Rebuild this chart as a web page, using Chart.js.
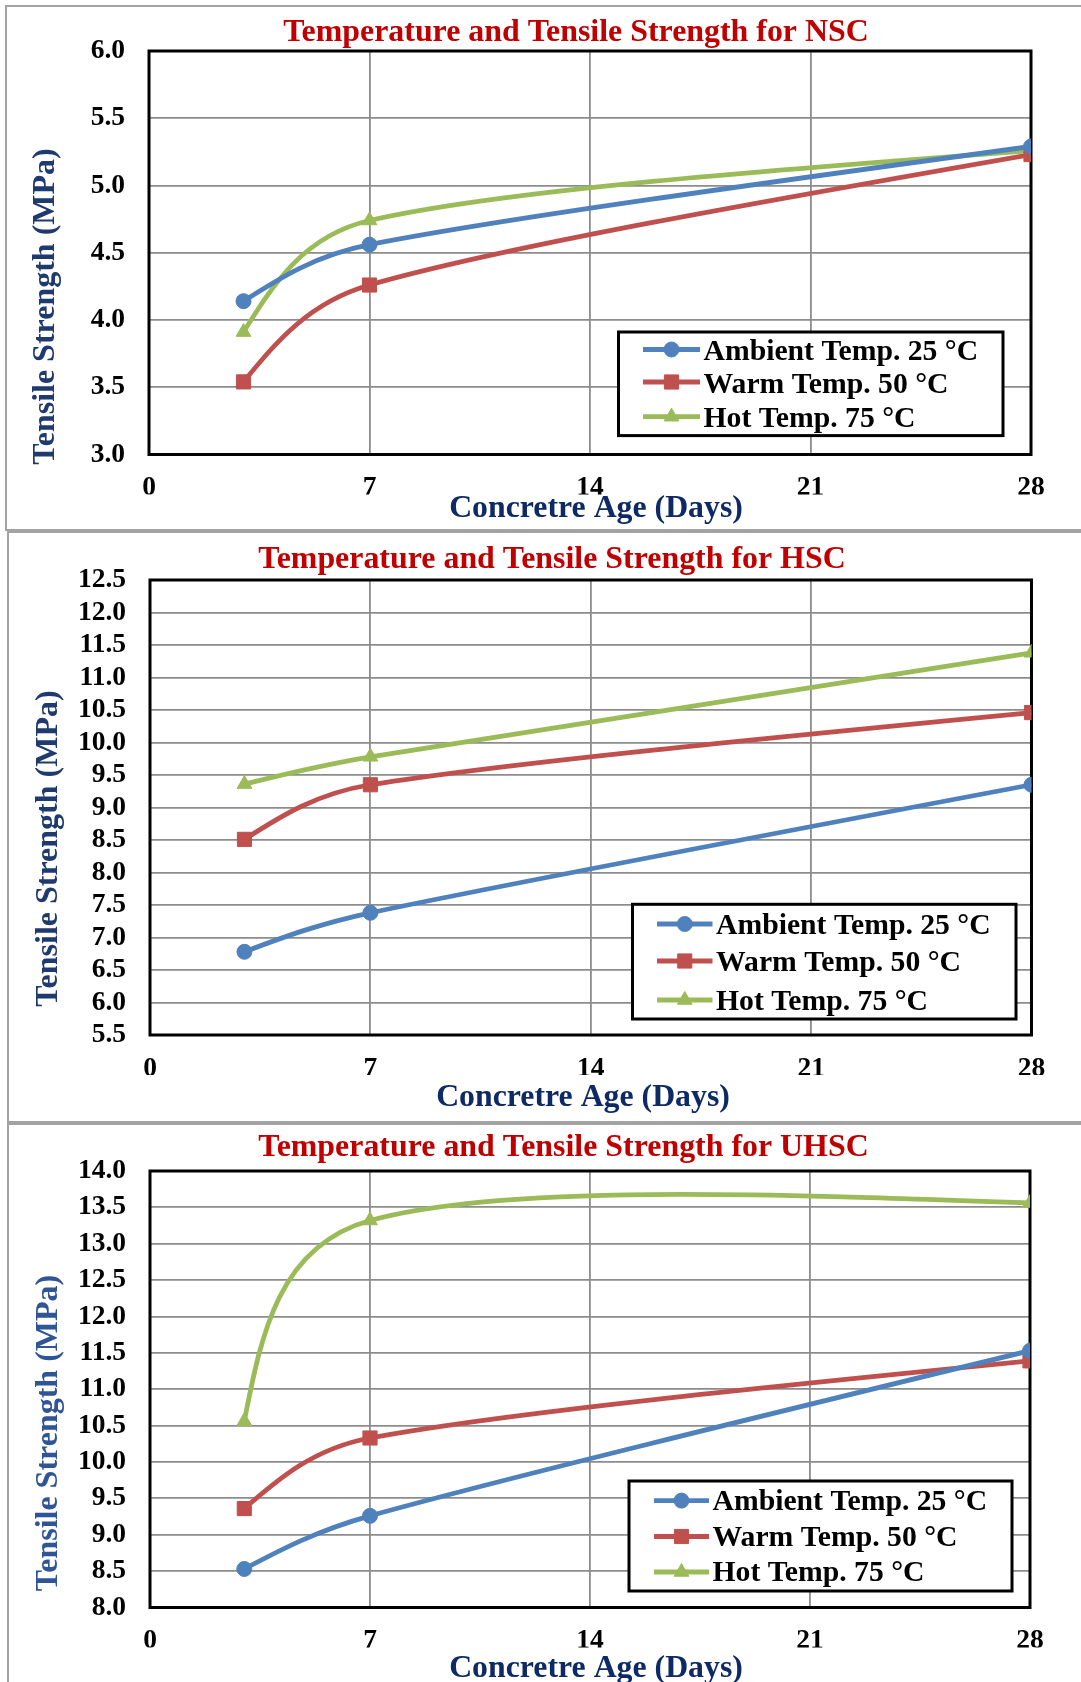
<!DOCTYPE html>
<html>
<head>
<meta charset="utf-8">
<script src="https://cdn.jsdelivr.net/npm/chart.js@4.4.0/dist/chart.umd.min.js"></script>
<style>
  body { margin: 0; background: #fff; width: 1081px; height: 1682px; overflow: hidden; position: relative; }
  .frame { position: absolute; border: 2px solid #a3a3a3; border-right: none; box-sizing: border-box; }
  canvas { position: absolute; left: 0; }
</style>
</head>
<body>
<div class="frame" style="left:5px;top:5px;width:1100px;height:526px"></div>
<div class="frame" style="left:7px;top:531px;width:1100px;height:592px"></div>
<div class="frame" style="left:7px;top:1123px;width:1100px;height:600px"></div>
<canvas id="nsc" width="1081" height="531" style="top:0"></canvas>
<canvas id="hsc" width="1081" height="590" style="top:531px"></canvas>
<canvas id="uhsc" width="1081" height="561" style="top:1121px"></canvas>
<script>
const days = [3, 7, 28];
const dayTicks = [0, 7, 14, 21, 28];
const seriesNames = ['Ambient Temp. 25 °C', 'Warm Temp. 50 °C', 'Hot Temp. 75 °C'];

const nscAmbient = [4.14, 4.56, 5.29];
const nscWarm = [3.54, 4.26, 5.23];
const nscHot = [3.91, 4.74, 5.26];
const nscTicks = [3.0, 3.5, 4.0, 4.5, 5.0, 5.5, 6.0];

const hscAmbient = [6.78, 7.38, 9.35];
const hscWarm = [8.51, 9.35, 10.46];
const hscHot = [9.36, 9.78, 11.38];
const hscTicks = [5.5, 6.0, 6.5, 7.0, 7.5, 8.0, 8.5, 9.0, 9.5, 10.0, 10.5, 11.0, 11.5, 12.0, 12.5];

const uhscAmbient = [8.53, 9.26, 11.53];
const uhscWarm = [9.36, 10.33, 11.39];
const uhscHot = [10.56, 13.32, 13.56];
const uhscTicks = [8.0, 8.5, 9.0, 9.5, 10.0, 10.5, 11.0, 11.5, 12.0, 12.5, 13.0, 13.5, 14.0];

const SERIF = "'Liberation Serif', 'Times New Roman', serif";
const seriesStyle = [
  { color: '#4F81BD', point: 'circle', r: 7.5 },
  { color: '#C0504D', point: 'rect', r: 10 },
  { color: '#9BBB59', point: 'triangle', r: 8.5 }
];

Chart.defaults.animation = false;

// thick black box round the plot area
const plotFrame = {
  id: 'plotFrame',
  beforeDatasetsDraw(chart) {
    const { ctx, chartArea: a } = chart;
    ctx.save();
    ctx.strokeStyle = '#000';
    ctx.lineWidth = 3;
    ctx.strokeRect(a.left, a.top, a.right - a.left, a.bottom - a.top);
    ctx.restore();
  }
};

// excel style smoothing: tangent from the two neighbours, 1/6 of their span,
// capped at 0.4 of the segment; end tangents aim half way at the next control point
const excelSmooth = {
  id: 'excelSmooth',
  beforeDatasetDraw(chart, args) {
    const line = args.meta.dataset;
    const pts = args.meta.data;
    const n = pts.length;
    line.updateControlPoints(chart.chartArea, 'x');
    if (n < 3) return;
    const dist = (a, b) => Math.hypot(b.x - a.x, b.y - a.y);
    for (let i = 1; i < n - 1; i++) {
      const p = pts[i], prev = pts[i - 1], next = pts[i + 1];
      const tx = next.x - prev.x, ty = next.y - prev.y;
      const tl = Math.hypot(tx, ty) || 1;
      const lIn = Math.min(tl / 6, 0.4 * dist(prev, p));
      const lOut = Math.min(tl / 6, 0.4 * dist(p, next));
      p.cp1x = p.x - tx / tl * lIn; p.cp1y = p.y - ty / tl * lIn;
      p.cp2x = p.x + tx / tl * lOut; p.cp2y = p.y + ty / tl * lOut;
    }
    const first = pts[0], second = pts[1];
    first.cp2x = first.x + 0.5 * (second.cp1x - first.x);
    first.cp2y = first.y + 0.5 * (second.cp1y - first.y);
    const last = pts[n - 1], before = pts[n - 2];
    last.cp1x = last.x + 0.5 * (before.cp2x - last.x);
    last.cp1y = last.y + 0.5 * (before.cp2y - last.y);
  }
};

const panelText = {
  id: 'panelText',
  afterDraw(chart, args, o) {
    const ctx = chart.ctx;
    ctx.save();
    ctx.textBaseline = 'alphabetic';
    ctx.textAlign = 'center';
    ctx.font = 'bold 31.9px ' + SERIF;
    ctx.fillStyle = '#C00000';
    ctx.fillText(o.title, o.titleX, o.titleY);
    ctx.font = 'bold 31.8px ' + SERIF;
    ctx.fillStyle = '#0E2A66';
    ctx.fillText('Concretre Age (Days)', o.xTitleX, o.xTitleY);
    ctx.translate(o.yTitleX, o.yTitleY);
    ctx.rotate(-Math.PI / 2);
    ctx.font = 'bold 32px ' + SERIF;
    ctx.fillStyle = o.yColor;
    ctx.fillText('Tensile Strength (MPa)', 0, 0);
    ctx.restore();
  }
};

const boxLegend = {
  id: 'boxLegend',
  afterDatasetsDraw(chart, args, o) {
    const ctx = chart.ctx;
    ctx.save();
    ctx.fillStyle = '#fff';
    ctx.fillRect(o.x, o.y, o.w, o.h);
    ctx.strokeStyle = '#000';
    ctx.lineWidth = 3;
    ctx.strokeRect(o.x, o.y, o.w, o.h);
    chart.data.datasets.forEach((ds, i) => {
      const y = o.rows[i];
      ctx.strokeStyle = ds.borderColor;
      ctx.lineWidth = 4.8;
      ctx.beginPath();
      ctx.moveTo(o.lineX1, y);
      ctx.lineTo(o.lineX2, y);
      ctx.stroke();
      ctx.fillStyle = ds.pointBackgroundColor;
      ctx.strokeStyle = ds.pointBorderColor;
      ctx.lineWidth = 1;
      Chart.helpers.drawPoint(ctx, { pointStyle: ds.pointStyle, radius: ds.pointRadius, rotation: 0, borderWidth: 1 },
        (o.lineX1 + o.lineX2) / 2, y);
      ctx.fillStyle = '#000';
      ctx.font = 'bold 29.7px ' + SERIF;
      ctx.textAlign = 'left';
      ctx.textBaseline = 'alphabetic';
      ctx.fillText(ds.label, o.textX, y + o.baseOff);
    });
    ctx.restore();
  }
};

function makePanel(id, series, yTicks, area, height, text, legend) {
  const xAxisH = 40;
  const tickFont = { family: SERIF, size: 27.5, weight: 'bold' };
  new Chart(document.getElementById(id), {
    type: 'line',
    data: {
      datasets: series.map((vals, i) => ({
        label: seriesNames[i],
        data: days.map((d, j) => ({ x: d, y: vals[j] })),
        borderColor: seriesStyle[i].color,
        borderWidth: 4.8,
        tension: 0.4,
        pointStyle: seriesStyle[i].point,
        pointRadius: seriesStyle[i].r,
        pointBackgroundColor: seriesStyle[i].color,
        pointBorderColor: seriesStyle[i].color,
        pointBorderWidth: 1,
        fill: false
      }))
    },
    options: {
      responsive: false,
      events: [],
      layout: {
        padding: { left: 0, top: area.top, right: 1081 - area.right, bottom: height - area.bottom - xAxisH }
      },
      scales: {
        x: {
          type: 'linear',
          min: dayTicks[0],
          max: dayTicks[dayTicks.length - 1],
          afterBuildTicks: s => { s.ticks = dayTicks.map(v => ({ value: v })); },
          afterFit: s => { s.height = xAxisH; },
          grid: { color: '#8c8c8c', lineWidth: 1.8, drawTicks: false },
          border: { display: false },
          ticks: { padding: 17, font: tickFont, color: '#000', maxRotation: 0, autoSkip: false }
        },
        y: {
          min: yTicks[0],
          max: yTicks[yTicks.length - 1],
          afterBuildTicks: s => { s.ticks = yTicks.map(v => ({ value: v })); },
          afterFit: s => { s.width = area.left; },
          grid: { color: '#8c8c8c', lineWidth: 1.8, drawTicks: false },
          border: { display: false },
          ticks: { padding: 24, font: tickFont, color: '#000', autoSkip: false, callback: v => v.toFixed(1) }
        }
      },
      plugins: {
        legend: { display: false },
        tooltip: { enabled: false },
        panelText: text,
        boxLegend: legend
      }
    },
    plugins: [plotFrame, excelSmooth, panelText, boxLegend]
  });
}

makePanel('nsc', [nscAmbient, nscWarm, nscHot], nscTicks,
  { left: 149, top: 51, right: 1031, bottom: 454.5 }, 531,
  { title: 'Temperature and Tensile Strength for NSC', titleX: 576, titleY: 40.6,
    xTitleX: 596, xTitleY: 516.5, yTitleX: 54, yTitleY: 306.5, yColor: '#1F3A6E' },
  { x: 618.5, y: 332, w: 384.5, h: 103.6, lineX1: 643, lineX2: 700, textX: 703.5,
    rows: [349.5, 382, 416.7], baseOff: 10.5 });

makePanel('hsc', [hscAmbient, hscWarm, hscHot], hscTicks,
  { left: 150, top: 49, right: 1031.5, bottom: 504 }, 590,
  { title: 'Temperature and Tensile Strength for HSC', titleX: 552, titleY: 37.3,
    xTitleX: 583, xTitleY: 575, yTitleX: 56.8, yTitleY: 317.6, yColor: '#1F3A6E' },
  { x: 632.5, y: 373.3, w: 383.5, h: 114.7, lineX1: 657, lineX2: 712.5, textX: 716,
    rows: [393, 430, 469], baseOff: 9.7 });

makePanel('uhsc', [uhscAmbient, uhscWarm, uhscHot], uhscTicks,
  { left: 150, top: 50, right: 1030, bottom: 486.5 }, 561,
  { title: 'Temperature and Tensile Strength for UHSC', titleX: 563.5, titleY: 34.8,
    xTitleX: 596, xTitleY: 556, yTitleX: 56.8, yTitleY: 312, yColor: '#2F5597' },
  { x: 629, y: 360, w: 383, h: 110, lineX1: 654, lineX2: 709, textX: 712.5,
    rows: [379.6, 415.5, 451], baseOff: 9.4 });
</script>
</body>
</html>
